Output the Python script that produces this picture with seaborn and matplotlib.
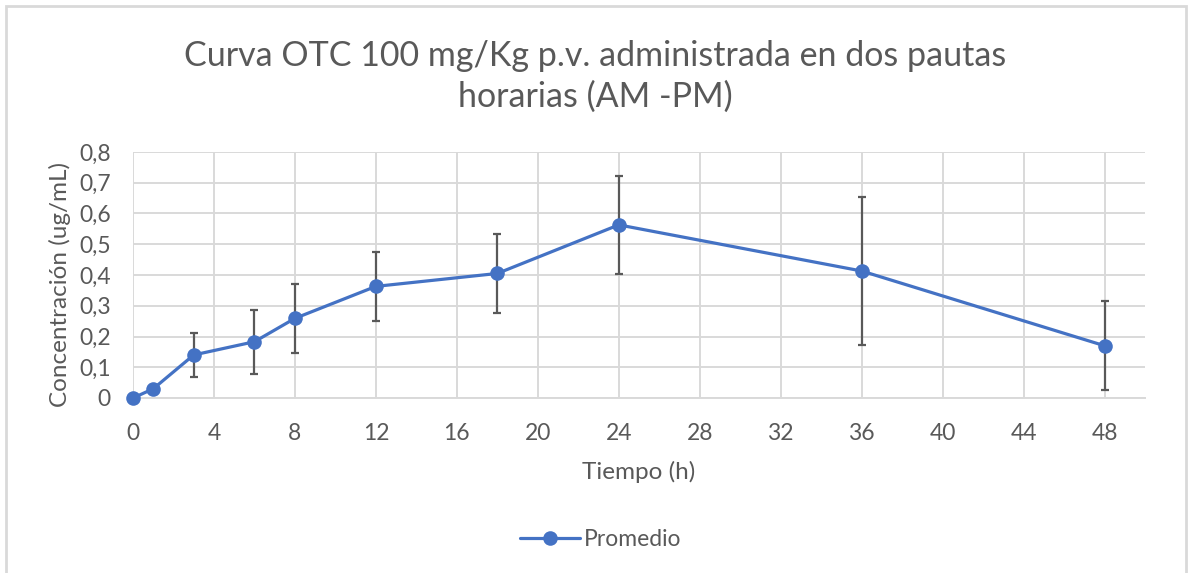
import matplotlib
matplotlib.use("Agg")
import matplotlib.pyplot as plt
import seaborn as sns
import pandas as pd

# data
tiempo = [0, 1, 3, 6, 8, 12, 18, 24, 36, 48]
promedio = [0.0, 0.03, 0.14, 0.183, 0.259, 0.363, 0.405, 0.563, 0.413, 0.17]
desv = [0.0, 0.0, 0.073, 0.104, 0.113, 0.112, 0.127, 0.16, 0.242, 0.145]

df = pd.DataFrame({"Tiempo (h)": tiempo, "Promedio": promedio, "sd": desv})

sns.set_style("white")
plt.rcParams["font.family"] = ["Lato", "DejaVu Sans"]

azul = "#4472C4"
gris = "#595959"
grid_c = "#d9d9d9"

fig = plt.figure(figsize=(11.9, 5.73), dpi=100)
ax = fig.add_axes([133 / 1190, 1 - 398 / 573, (1145 - 133) / 1190, (398 - 152) / 573])

ax.errorbar(df["Tiempo (h)"], df["Promedio"], yerr=df["sd"], fmt="none",
            ecolor=gris, elinewidth=1.6, capsize=3.2, capthick=1.6, zorder=2)
sns.lineplot(data=df, x="Tiempo (h)", y="Promedio", ax=ax, color=azul,
             linewidth=2.3, marker="o", markersize=10.5, markeredgewidth=0,
             label="Promedio", zorder=3, clip_on=False)

ax.set_xlim(0, 50)
ax.set_ylim(0, 0.8)
ax.set_xticks(range(0, 49, 4))
ax.set_yticks([i / 10 for i in range(9)])
ax.set_yticklabels(["0"] + [f"0,{i}" for i in range(1, 9)])
ax.grid(True, color=grid_c, linewidth=1.4)
for s in ["top", "right", "left"]:
    ax.spines[s].set_visible(False)
ax.spines["bottom"].set_color(grid_c)
ax.spines["bottom"].set_linewidth(1.4)
ax.tick_params(axis="both", length=0, labelsize=16.5, colors=gris)
ax.tick_params(axis="x", pad=18)
ax.tick_params(axis="y", pad=16)

ax.set_xlabel("Tiempo (h)", fontsize=17.5, color=gris, labelpad=12)
ax.set_ylabel("Concentración (ug/mL)", fontsize=17.5, color=gris)
ax.yaxis.set_label_coords(-0.061, 0.46)

fig.suptitle("Curva OTC 100 mg/Kg p.v. administrada en dos pautas\nhorarias (AM -PM)",
             x=0.5, y=0.93, fontsize=24.5, color=gris, linespacing=1.33)

ax.get_legend().remove()
fig.legend(loc="center", bbox_to_anchor=(0.505, 0.058), frameon=False,
           fontsize=16.5, labelcolor=gris, handlelength=2.6, handletextpad=0.2)

# outer chart frame
frame = plt.Rectangle((6 / 1190, -0.05), 1180 / 1190, 1.0 - 6 / 573 + 0.05,
                      transform=fig.transFigure, fill=False,
                      edgecolor=grid_c, linewidth=2)
fig.patches.append(frame)

fig.savefig("out.png", dpi=100, facecolor="white")
